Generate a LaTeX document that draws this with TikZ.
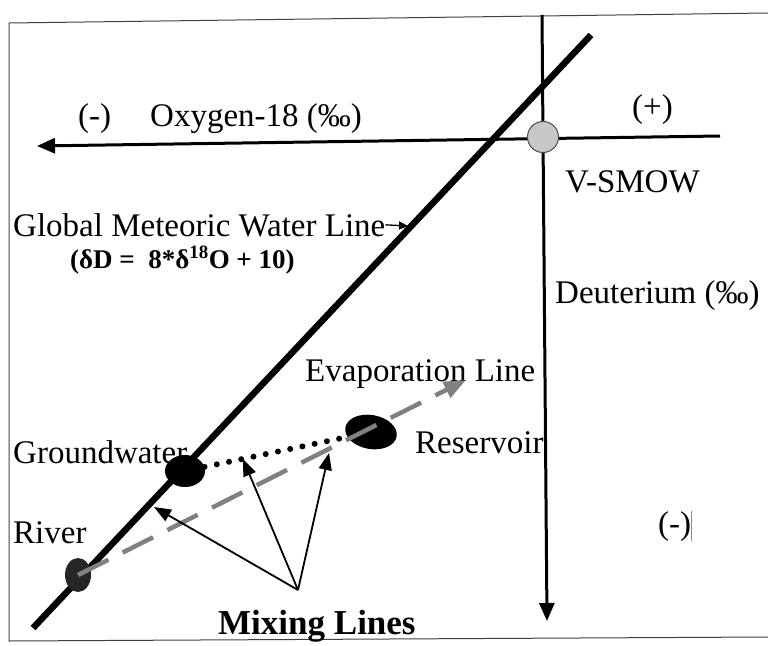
\documentclass[tikz,border=0pt]{standalone}
\usepackage{fontspec}
\setmainfont{Liberation Serif}
\usetikzlibrary{arrows.meta,shapes.geometric}

\tikzset{
	lbl/.style = {inner sep=0pt, anchor=base west, font=\fontsize{33}{36}\selectfont},
	boldlbl/.style = {lbl, font=\fontsize{35}{38}\selectfont\bfseries},
	axis/.style = {line width=3pt, -{Triangle[length=18pt,width=15pt]}},
	mixarrow/.style = {line width=1.8pt, -{Triangle[length=17pt,width=13pt]}},
	blob/.style = {ellipse, fill=black, inner sep=0pt},
	dotline/.style = {line width=6pt, line cap=round, dash pattern=on 0pt off 12.5pt},
	evapline/.style = {line width=4.5pt, black!50, dash pattern=on 34pt off 16pt,
		-{Triangle[length=22pt,width=17pt]}}
}

\begin{document}
\begin{tikzpicture}[x=1pt, y=-1pt]
	\useasboundingbox (0,0) rectangle (768,645);
	% frame of the scan
	\draw [line width=1pt, black!75] (768,13) -- (9,23) -- (9,641) -- (768,637);

	% axes and meteoric line
	\coordinate (oright) at (720,136);
	\coordinate (oleft) at (37,146);
	\coordinate (dtop) at (542,15);
	\coordinate (dbot) at (547,621);
	\coordinate (gmwlA) at (33,628);
	\coordinate (gmwlB) at (591,35);
	\draw [axis] (oright) -- (oleft);
	\draw [axis] (dtop) -- (dbot);
	\draw [line width=6.5pt] (gmwlA) -- (gmwlB);
	\node [circle, draw=black!70, fill=black!22, line width=1pt, minimum size=31pt, inner sep=0pt] (vsmow) at (543,137) {};

	% labels
	\node [lbl] (oneg) at (78,126) {(-)};
	\node [lbl] (oxy) at (150,126) {Oxygen-18 (‰)};
	\node [lbl] (opos) at (632,117) {(+)};
	\node [lbl] (vsmowlbl) at (565,192) {V-SMOW};
	\node [lbl] (gmwllbl) at (13,236) {Global Meteoric Water Line};
	\node [boldlbl, font=\fontsize{27}{30}\selectfont\bfseries] (eqn) at (70,268) {(δD =\ \ 8*δ\textsuperscript{18}O + 10)};
	\node [lbl] (deut) at (555,303) {Deuterium (‰)};
	\node [lbl] (evaplbl) at (305,381) {Evaporation Line};
	\node [lbl] (gwlbl) at (13,463) {Groundwater};
	\node [lbl] (reslbl) at (415,453) {Reservoir};
	\node [lbl] (riverlbl) at (13,543) {River};
	\node [boldlbl] (mixlbl) at (218,634) {Mixing Lines};
	\node [lbl] (dneg) at (658,534) {(-)};
	\draw [black!45, line width=0.8pt] (dneg.north east) -- (dneg.south east);

	\coordinate (gmwltip) at (408,226);
	\draw [line width=1.3pt, -{Triangle[length=9pt,width=8pt]}] (gmwllbl.east) -- (gmwltip);

	% water samples
	\node [blob, minimum width=40pt, minimum height=32pt] (gw) at (185,471) {};
	\node [blob, minimum width=52pt, minimum height=34pt, rotate=-10] (res) at (371,432) {};
	\node [blob, minimum width=26pt, minimum height=34pt, fill=black!85] (river) at (78,575) {};
	\draw [dotline] (gw) -- (res);

	% evaporation line
	\coordinate (evtip) at (466,380);
	\draw [evapline] (river.center) -- (evtip);

	% mixing arrows
	\coordinate (mixsrc) at (298,590);
	\coordinate (mixA) at (154,507);
	\coordinate (mixB) at (243,459);
	\coordinate (mixC) at (329,453);
	\draw [mixarrow] (mixsrc) -- (mixA);
	\draw [mixarrow] (mixsrc) -- (mixB);
	\draw [mixarrow] (mixsrc) -- (mixC);
\end{tikzpicture}
\end{document}
